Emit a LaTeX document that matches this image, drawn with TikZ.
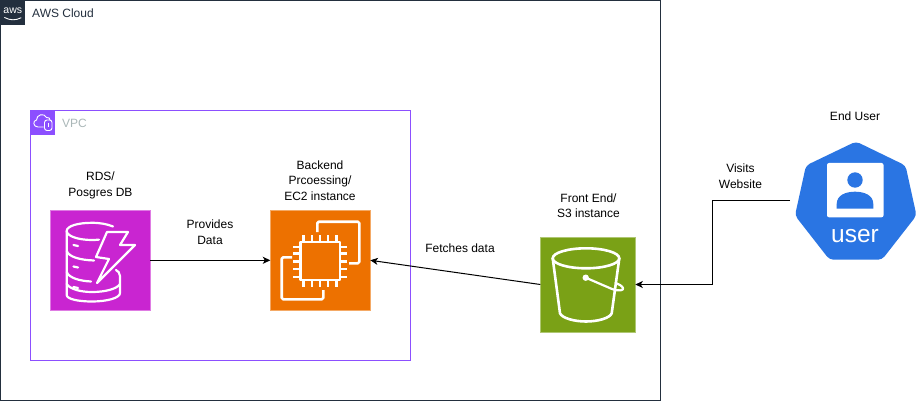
\documentclass[tikz,border=0pt]{standalone}
\usepackage{fontspec}
\setmainfont{Liberation Sans}
\usetikzlibrary{arrows.meta}
\definecolor{awsdark}{HTML}{232F3E}
\definecolor{vpcpurple}{HTML}{8C4FFF}
\definecolor{vpcgrey}{HTML}{AAB7B8}
\definecolor{rdscol}{HTML}{C925D1}
\definecolor{ec2col}{HTML}{ED7100}
\definecolor{s3col}{HTML}{7AA116}
\definecolor{usercol}{HTML}{2A75E3}
\tikzset{
  x=1pt,y=-1pt,
  lbl/.style={font=\fontsize{12}{15.5}\selectfont,align=center,text=black,inner sep=0pt},
  tile/.style={draw=#1!60!white,fill=#1,line width=.6pt,minimum size=100pt,inner sep=0pt,outer sep=0pt,anchor=north west},
  conn/.style={draw=black,line width=1pt,-{Stealth[length=7.5pt,width=7pt,inset=2pt]}},
  ico/.style={draw=white,line width=2.6pt,line cap=round,line join=round},
  icot/.style={draw=white,line width=2.2pt,line join=round},
}
\begin{document}
\begin{tikzpicture}
\useasboundingbox (0,0) rectangle (921,401);
\fill[white] (0,0) rectangle (921,401);
% AWS Cloud group
\draw[awsdark,line width=1pt] (.5,.5) rectangle (660.5,400.5);
\fill[awsdark] (0,0) rectangle (25,25);
\node[inner sep=0pt,text=white,font=\fontsize{10.5}{11}\selectfont] (awslogo) at (12.8,10.5) {aws};
\draw[white,line width=.9pt,line cap=round] (4.5,17.5) .. controls (10,20.5) and (16,20.5) .. (21,17.8);
\node[lbl,anchor=west,text=awsdark] (awslabel) at (32,13) {AWS Cloud};
% VPC group
\draw[vpcpurple,line width=1pt] (30.5,110.5) rectangle (410.5,360.5);
\fill[vpcpurple] (30,110) rectangle (55,135);
\draw[white,line width=.9pt,line join=round] (43.5,127) -- (38,127) .. controls (33,127) and (32.5,120.5) .. (36.5,120) .. controls (36.5,114.5) and (44,112.5) .. (46.5,117.5) .. controls (48.5,117) and (50.5,118.5) .. (50,120);
\draw[white,line width=.9pt,rounded corners=2.5pt] (44.5,120) rectangle (52,130.5);
\draw[white,line width=.8pt] (48.2,123) -- (48.2,127.5);
\node[lbl,anchor=west,text=vpcgrey] (vpclabel) at (62,123.5) {VPC};
% RDS
\node[tile=rdscol] (rds) at (50.3,210.3) {};
\begin{scope}[line cap=round,line join=round,draw=white,line width=2.2pt]
\draw (113,226.5) .. controls (107,224) and (100,222.8) .. (92,222.8) .. controls (78,222.8) and (66.7,226) .. (66.7,231) .. controls (66.7,236) and (78,240) .. (92,240) .. controls (94,240) and (96,240) .. (99,239.6);
\draw (66.7,231) -- (66.7,295) .. controls (66.7,299) and (78,301.5) .. (92,301.5) .. controls (107,301.5) and (120,298) .. (120,293) -- (120,276) .. controls (120,273) and (118,271) .. (116,270);
\draw (66.7,251) .. controls (69,257) and (80,260) .. (94,260.5);
\draw (66.7,272) .. controls (69,278) and (80,281) .. (91,281.5);
\draw (120,284) .. controls (117,289) and (105,292) .. (92,292) .. controls (80,292) and (70,289) .. (66.7,284);
\draw (73.5,245) -- (78,246);
\draw (73.5,266.5) -- (78,267.5);
\draw (73.5,287) -- (78,288);
\draw (107,232) -- (128,232) -- (120,245) -- (135,245) -- (97,283) -- (109,259) -- (96,257) -- cycle;
\end{scope}
% EC2
\node[tile=ec2col] (ec2) at (270.3,210.3) {};
\draw[ico,line cap=butt] (300.5,242) rectangle (340,280);
\foreach \p in {303.5,311.7,320,328.3,336.5}{
  \draw[icot] (\p,235) -- (\p,242);
  \draw[icot] (\p,280) -- (\p,287);
}
\foreach \p in {246.7,253.5,261.5,269.3,276.7}{
  \draw[icot] (293,\p) -- (300,\p);
  \draw[icot] (340,\p) -- (347,\p);
}
\draw[ico,line cap=butt,rounded corners=1.5pt] (317.3,232) -- (317.3,221.7) -- (359.3,221.7) -- (359.3,263.3) -- (349,263.3);
\draw[ico,line cap=butt,rounded corners=1.5pt] (292,257.3) -- (281.7,257.3) -- (281.7,299.3) -- (323.3,299.3) -- (323.3,290);
% S3
\node[tile=s3col,minimum size=95pt] (s3) at (540.3,237) {};
\draw[ico] (586,258.3) ellipse [x radius=33.3,y radius=10];
\draw[ico] (552.7,258.3) -- (560,313.3) .. controls (562,318) and (574,321.5) .. (586,321.5) .. controls (598,321.5) and (610,318) .. (611.7,313.3) -- (619.3,258.3);
\fill[white] (585.7,277.7) circle (3.2);
\draw[ico,line width=2.2pt] (585.7,277.7) -- (612,289) .. controls (619,291.5) and (624,290.5) .. (623,288) .. controls (622,285.5) and (618,284) .. (615.5,283);
% User (heptagon)
\fill[usercol,rounded corners=4pt] (856,141.5) -- (905.5,165.5) -- (916.5,215.5) -- (882,259.7) -- (829.5,259.7) -- (795,215.5) -- (806,165.5) -- cycle;
\fill[white,rounded corners=2pt] (827,163) rectangle (883.5,217.3);
\fill[usercol] (855,180) circle (7.7);
\fill[usercol] (836.7,208.5) -- (873.3,208.5) -- (873.3,204) .. controls (873.3,195) and (864,191.7) .. (855,191.7) .. controls (846,191.7) and (836.7,195) .. (836.7,204) -- cycle;
\node[inner sep=0pt,text=white,font=\fontsize{24.5}{26}\selectfont] (usertext) at (855,236) {user};
\coordinate (userport) at (790,200.5);
\coordinate (bend1) at (712.5,200.5);
% Labels
\node[lbl] (rdslabel) at (100.5,185.5) {RDS/\\Posgres DB};
\node[lbl] (ec2label) at (320,180.5) {Backend\\Prcoessing/\\EC2 instance};
\node[lbl] (s3label) at (588.5,205.5) {Front End/\\S3 instance};
\node[lbl] (enduser) at (855,116) {End User};
\node[lbl] (provides) at (210,232) {Provides\\Data};
\node[lbl] (fetches) at (460,248) {Fetches data};
\node[lbl] (visits) at (740.5,176) {Visits\\Website};
% Connectors
\draw[conn] (rds.east) -- (ec2.west);
\draw[conn] (s3.west) -- (ec2.east);
\draw[conn] (userport) -- (bend1) |- (s3.east);
\end{tikzpicture}
\end{document}
